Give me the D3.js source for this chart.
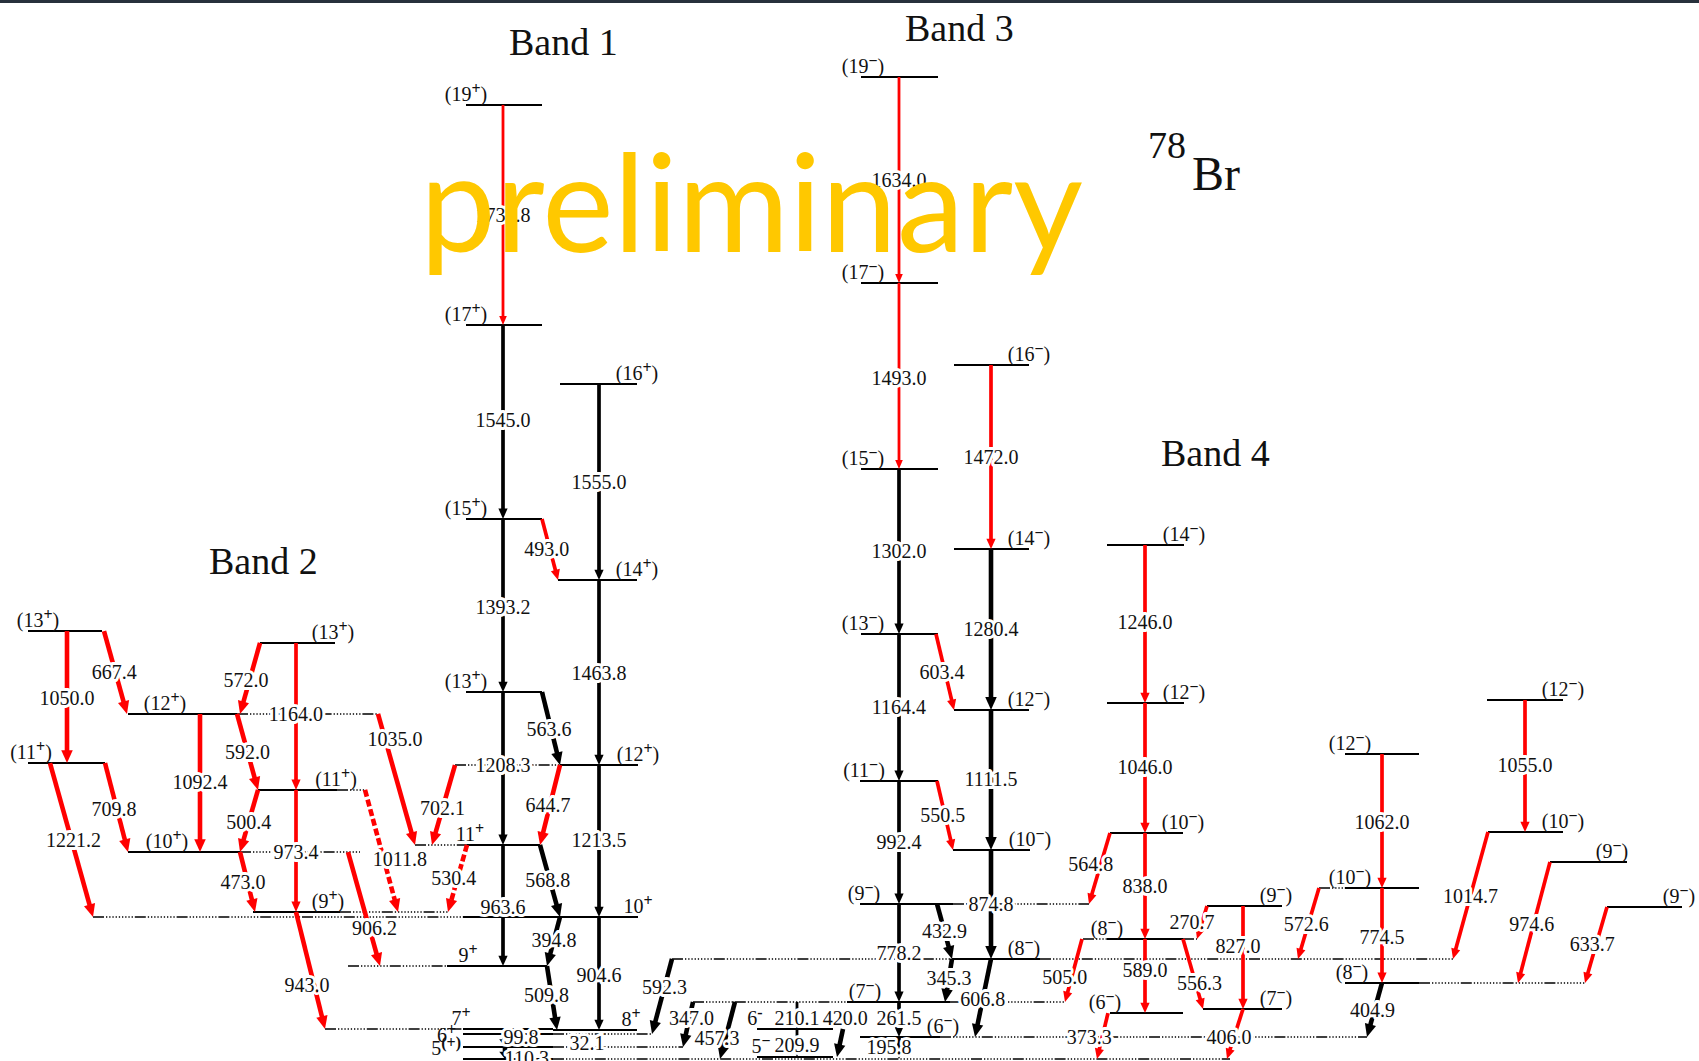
<!DOCTYPE html>
<html>
<head>
<meta charset="utf-8">
<script src="https://cdn.jsdelivr.net/npm/d3@7"></script>
<style>
  body { margin: 0; background: #fff; }
  svg text { font-family: "Liberation Serif", "Times New Roman", serif; fill: #111; }
</style>
</head>
<body>
<svg id="scheme" width="1699" height="1061"></svg>
<script>
// level energies are in keV, x0/x1 in layout units (1 unit = 10 px)
// [id, spin, energy, x0, x1, label side, label shift]
const levels = [
  ["b1_19", "(19+)", 7674, 46.6, 54.2, "l", 0],
  ["b1_17", "(17+)", 5933, 46.6, 54.2, "l", 0],
  ["b1_15", "(15+)", 4399, 46.6, 54.2, "l", 0],
  ["b1_13", "(13+)", 3030, 46.6, 54.2, "l", 0],
  ["b1_11", "11+", 1820, 46.7, 54.0, "l", 0.3],
  ["b1_9", "9+", 862, 44.7, 54.7, "l", 2.1],
  ["b1_7", "7+", 364, 46.3, 55.3, "l", -0.2],
  ["b1_8", "8+", 356, 55.3, 63.7, "r", -0.6],
  ["b1_6", "6+", 324, 46.3, 55.3, "o", -0.6],
  ["b1_5", "5(+)", 221, 46.3, 55.3, "o", -0.1],
  ["b0", "", 127, 46.3, 55.3, "n", 0],
  ["b1_16", "(16+)", 5467, 56.0, 63.7, "r", 0],
  ["b1_14", "(14+)", 3916, 55.8, 63.7, "r", 0],
  ["b1_12", "(12+)", 2452, 56.0, 63.8, "r", 0],
  ["b1_10", "10+", 1250, 46.3, 63.8, "r", 0],
  ["b2_13a", "(13+)", 3512, 2.8, 10.2, "l", 1.0],
  ["b2_11a", "(11+)", 2468, 2.8, 10.5, "l", 0.3],
  ["b2_12", "(12+)", 2856, 12.8, 23.7, "l", 3.7],
  ["b2_10", "(10+)", 1764, 12.8, 24.0, "l", 3.9],
  ["b2_13b", "(13+)", 3418, 26.0, 33.5, "r", -0.2],
  ["b2_11b", "(11+)", 2255, 25.8, 33.7, "r", -0.1],
  ["b2_9", "(9+)", 1290, 25.3, 34.0, "r", -1.2],
  ["b3_19", "(19−)", 7895, 86.1, 93.8, "l", 0.2],
  ["b3_17", "(17−)", 6266, 86.1, 93.8, "l", 0.2],
  ["b3_15", "(15−)", 4794, 86.1, 93.8, "l", 0.2],
  ["b3_13", "(13−)", 3489, 86.1, 93.8, "l", 0.2],
  ["b3_11", "(11−)", 2326, 86.0, 93.8, "l", 0.4],
  ["b3_9", "(9−)", 1353, 86.0, 95.3, "l", 0.4],
  ["b3_7", "(7−)", 578, 84.7, 95.0, "l", 1.8],
  ["b3_6", "(6−)", 301, 86.0, 94.0, "r", 0.3],
  ["b3_16", "(16−)", 5617, 95.4, 102.9, "r", 0],
  ["b3_14", "(14−)", 4161, 95.4, 102.9, "r", 0],
  ["b3_12", "(12−)", 2888, 95.4, 102.9, "r", 0],
  ["b3_10", "(10−)", 1780, 95.3, 103.0, "r", 0],
  ["b3_8", "(8−)", 918, 95.2, 104.0, "r", -1.6],
  ["n6", "6-", 364, 75.7, 83.3, "l", -0.2],
  ["n5", "5−", 142, 75.7, 83.3, "l", 0.4],
  ["b4_14", "(14−)", 4193, 110.7, 118.4, "r", 0],
  ["b4_12", "(12−)", 2943, 110.7, 118.4, "r", 0],
  ["b4_10", "(10−)", 1914, 111.0, 118.3, "r", 0],
  ["b4_8", "(8−)", 1076, 110.7, 118.3, "l", 0],
  ["b4_6", "(6−)", 490, 111.0, 118.3, "l", -0.5],
  ["b4_9", "(9−)", 1337, 120.7, 128.2, "r", -0.6],
  ["b4_7", "(7−)", 522, 120.3, 128.2, "r", -0.6],
  ["b5_12", "(12−)", 2539, 134.5, 141.9, "l", 0.5],
  ["b5_10", "(10−)", 1479, 134.5, 141.9, "l", 0.5],
  ["b5_8", "(8−)", 728, 134.5, 141.9, "l", 0.7],
  ["b6_12", "(12−)", 2967, 148.7, 156.3, "r", 0],
  ["b6_10", "(10−)", 1922, 148.8, 156.3, "r", 0],
  ["b6_9", "(9−)", 1685, 155.0, 162.7, "r", -1.5],
  ["b7_9", "(9−)", 1329, 160.7, 168.2, "r", -0.3]
];

// dotted continuations of levels: [energy, x0, x1]
const guides = [
  [2856, 23.7, 37.8], [1764, 24.0, 36.0], [2255, 33.7, 36.5], [1290, 34.0, 44.8],
  [1250, 9.3, 46.3], [1820, 41.5, 46.7], [2452, 45.5, 56.0], [862, 34.8, 44.7],
  [364, 32.5, 46.3], [324, 55.3, 65.2], [221, 55.3, 68.3], [127, 55.3, 123.0],
  [918, 67.2, 95.2], [918, 104.0, 145.3], [578, 69.3, 84.7], [578, 95.0, 106.5],
  [301, 94.0, 136.7], [1353, 95.3, 108.9], [1076, 108.3, 110.7], [1076, 118.3, 119.7],
  [1479, 131.9, 134.5], [728, 141.9, 158.5]
];

// gamma rays: [energy label, from, to, x start, x end, kind (k known, n new, d tentative), intensity, label pos, label shift]
const gammas = [
  ["1735.8", "b1_19", "b1_17", 50.3, 50.3, "n", 1, 0.50, 0],
  ["1545.0", "b1_17", "b1_15", 50.3, 50.3, "k", 2, 0.49, 0],
  ["1393.2", "b1_15", "b1_13", 50.3, 50.3, "k", 2, 0.51, 0],
  ["1208.3", "b1_13", "b1_11", 50.3, 50.3, "k", 2, 0.48, 0],
  ["963.6", "b1_11", "b1_9", 50.3, 50.3, "k", 2, 0.51, 0],
  ["1555.0", "b1_16", "b1_14", 59.9, 59.9, "k", 2, 0.50, 0],
  ["1463.8", "b1_14", "b1_12", 59.9, 59.9, "k", 2, 0.50, 0],
  ["1213.5", "b1_12", "b1_10", 59.9, 59.9, "k", 2, 0.49, 0],
  ["904.6", "b1_10", "b1_8", 59.9, 59.9, "k", 2, 0.51, 0],
  ["493.0", "b1_15", "b1_14", 54.2, 55.8, "n", 2, 0.49, -0.3],
  ["563.6", "b1_13", "b1_12", 54.2, 56.0, "k", 3, 0.50, -0.2],
  ["644.7", "b1_12", "b1_11", 56.0, 54.0, "n", 3, 0.50, -0.2],
  ["568.8", "b1_11", "b1_10", 54.0, 56.0, "k", 3, 0.49, -0.2],
  ["394.8", "b1_10", "b1_9", 56.0, 54.7, "k", 3, 0.47, 0],
  ["509.8", "b1_9", "b1_8", 54.7, 55.7, "k", 3, 0.45, -0.5],
  ["99.8", "b1_6", "b1_5", 50.5, 50.5, "k", 3, 0.23, 1.6],
  ["110.3", "b1_5", "b0", 50.5, 50.5, "k", 3, 0.90, 2.2],
  ["592.3", "b3_8", "b1_6", 67.2, 65.2, "k", 3, 0.38, 0],
  ["347.0", "b3_7", "b1_5", 69.3, 68.3, "k", 3, 0.36, 0.2],
  ["457.3", "b3_7", "b0", 73.5, 72.0, "k", 3, 0.63, -0.85],
  ["210.1", "b3_7", "n6", 79.7, 79.7, "k", 1, 0.59, 0],
  ["209.9", "n6", "n5", 79.7, 79.7, "k", 1, 0.57, 0],
  ["420.0", "n6", "n5", 84.3, 83.7, "k", 3, -0.39, 0],
  ["261.5", "b3_7", "b3_6", 89.9, 89.9, "k", 2, 0.46, 0],
  ["195.8", "b3_6", "b0", 89.9, 89.9, "k", 2, 0.45, -1.0],
  ["1634.0", "b3_19", "b3_17", 89.9, 89.9, "n", 1, 0.50, 0],
  ["1493.0", "b3_17", "b3_15", 89.9, 89.9, "n", 1, 0.51, 0],
  ["1302.0", "b3_15", "b3_13", 89.9, 89.9, "k", 2, 0.50, 0],
  ["1164.4", "b3_13", "b3_11", 89.9, 89.9, "k", 2, 0.50, 0],
  ["992.4", "b3_11", "b3_9", 89.9, 89.9, "k", 2, 0.50, 0],
  ["778.2", "b3_9", "b3_7", 89.9, 89.9, "k", 2, 0.50, 0],
  ["1472.0", "b3_16", "b3_14", 99.1, 99.1, "n", 2, 0.50, 0],
  ["1280.4", "b3_14", "b3_12", 99.1, 99.1, "k", 3, 0.50, 0],
  ["1111.5", "b3_12", "b3_10", 99.1, 99.1, "k", 3, 0.49, 0],
  ["874.8", "b3_10", "b3_8", 99.1, 99.1, "k", 3, 0.50, 0],
  ["603.4", "b3_13", "b3_12", 93.6, 95.4, "n", 2, 0.50, -0.3],
  ["550.5", "b3_11", "b3_10", 93.7, 95.3, "n", 2, 0.49, -0.2],
  ["432.9", "b3_9", "b3_8", 93.7, 95.2, "k", 3, 0.50, 0],
  ["345.3", "b3_8", "b3_7", 95.2, 94.5, "k", 3, 0.44, 0],
  ["606.8", "b3_8", "b3_6", 99.1, 97.5, "k", 3, 0.51, 0],
  ["1246.0", "b4_14", "b4_12", 114.5, 114.5, "n", 2, 0.49, 0],
  ["1046.0", "b4_12", "b4_10", 114.5, 114.5, "n", 2, 0.49, 0],
  ["838.0", "b4_10", "b4_8", 114.5, 114.5, "n", 2, 0.50, 0],
  ["589.0", "b4_8", "b4_6", 114.5, 114.5, "n", 2, 0.42, 0],
  ["564.8", "b4_10", "b3_9", 111.0, 108.9, "n", 2, 0.44, -1.0],
  ["505.0", "b4_8", "b3_7", 108.2, 106.5, "n", 2, 0.60, -0.7],
  ["373.3", "b4_6", "b0", 110.8, 109.7, "n", 2, 0.52, -1.3],
  ["270.7", "b4_9", "b4_8", 120.7, 119.7, "n", 2, 0.50, -1.0],
  ["827.0", "b4_9", "b4_7", 124.3, 124.3, "n", 2, 0.39, -0.5],
  ["556.3", "b4_8", "b4_7", 118.3, 120.3, "n", 2, 0.63, 0.4],
  ["406.0", "b4_7", "b0", 124.3, 122.7, "n", 2, 0.56, -0.5],
  ["572.6", "b5_10", "b3_8", 131.9, 129.8, "n", 2, 0.51, -0.2],
  ["1062.0", "b5_12", "b5_10", 138.2, 138.2, "n", 2, 0.51, 0],
  ["774.5", "b5_10", "b5_8", 138.2, 138.2, "n", 2, 0.52, 0],
  ["404.9", "b5_8", "b3_6", 138.2, 136.7, "k", 3, 0.50, -0.2],
  ["1055.0", "b6_12", "b6_10", 152.5, 152.5, "n", 2, 0.49, 0],
  ["1014.7", "b6_10", "b3_8", 148.8, 145.3, "n", 2, 0.50, 0],
  ["974.6", "b6_9", "b5_8", 155.0, 151.8, "n", 2, 0.51, -0.2],
  ["633.7", "b7_9", "b5_8", 160.7, 158.5, "n", 2, 0.49, -0.4],
  ["1050.0", "b2_13a", "b2_11a", 6.7, 6.7, "n", 3, 0.51, 0],
  ["667.4", "b2_13a", "b2_12", 10.4, 12.7, "n", 3, 0.49, -0.1],
  ["1221.2", "b2_11a", "b1_10", 5.0, 9.3, "n", 3, 0.50, 0.2],
  ["709.8", "b2_11a", "b2_10", 10.5, 12.8, "n", 3, 0.52, -0.3],
  ["1092.4", "b2_12", "b2_10", 20.0, 20.0, "n", 3, 0.49, 0],
  ["572.0", "b2_13b", "b2_12", 26.0, 24.0, "n", 3, 0.52, -0.35],
  ["1164.0", "b2_13b", "b2_11b", 29.6, 29.6, "n", 2, 0.48, 0],
  ["592.0", "b2_12", "b2_11b", 23.7, 25.8, "n", 3, 0.50, 0],
  ["500.4", "b2_11b", "b2_10", 25.8, 24.0, "n", 3, 0.52, 0],
  ["473.0", "b2_10", "b2_9", 24.0, 25.5, "n", 3, 0.50, -0.45],
  ["973.4", "b2_11b", "b2_9", 29.6, 29.6, "n", 2, 0.51, 0],
  ["943.0", "b2_9", "b1_7", 29.6, 32.5, "n", 3, 0.62, -0.7],
  ["906.2", "b2_10", "b1_9", 34.8, 38.0, "n", 3, 0.67, 0.5],
  ["1011.8", "b2_11b", "b2_9", 36.5, 39.8, "d", 3, 0.57, 1.6],
  ["1035.0", "b2_12", "b1_11", 37.8, 41.5, "n", 3, 0.19, 1.0],
  ["702.1", "b1_12", "b1_11", 45.5, 43.2, "n", 3, 0.54, 0],
  ["530.4", "b1_11", "b2_9", 46.7, 44.8, "d", 3, 0.49, -0.4]
];

// free standing energy label: [text, energy, x]
const notes = [["32.1", 253, 58.7]];

const bandTitles = [["Band 1", 8069, 50.9], ["Band 3", 8180, 90.5], ["Band 2", 3963, 20.9], ["Band 4", 4818, 116.1]];

const svg = d3.select("#scheme");
const x = d3.scaleLinear().domain([0, 169.9]).range([0, 1699]);
const y = d3.scaleLinear().domain([0, 8500]).range([1075, 1075 - 8500 / 7.911]);
const colour = d3.scaleOrdinal().domain(["k", "n", "d"]).range(["#000", "#ff0000", "#ff0000"]);
const thick = d3.scaleLinear().domain([1, 3]).range([2.8, 4.6]);
const lev = new Map(levels.map(d => [d[0], d]));
const unit = x(1) - x(0);

// thin dark frame edge at the top
svg.append("rect").attr("width", 1699).attr("height", 3).attr("fill", "#27313c");

var dashDot = [11, 2].concat(d3.range(9).flatMap(() => [1.3, 1.9])).join(" ");

svg.append("g").selectAll("line")
  .data(guides)
  .join("line")
    .attr("x1", d => x(d[1])).attr("x2", d => x(d[2]))
    .attr("y1", d => y(d[0])).attr("y2", d => y(d[0]))
    .attr("stroke", "#000").attr("stroke-width", 1.4)
    .attr("stroke-dasharray", dashDot);

svg.append("g").selectAll("line")
  .data(levels)
  .join("line")
    .attr("x1", d => x(d[3])).attr("x2", d => x(d[4]))
    .attr("y1", d => y(d[2])).attr("y2", d => y(d[2]))
    .attr("stroke", "#000").attr("stroke-width", 2);

// arrows
var geo = gammas.map(g => {
  var x0 = x(g[3]), y0 = y(lev.get(g[1])[2]), x1 = x(g[4]), y1 = y(lev.get(g[2])[2]);
  var len = Math.hypot(x1 - x0, y1 - y0), ux = (x1 - x0) / len, uy = (y1 - y0) / len;
  var sw = thick(g[6]);
  var L = Math.min(Math.max(9, 2.8 * sw), len * 0.6), W = Math.max(3.8, 1.25 * sw);
  return {g: g, x0: x0, y0: y0, x1: x1, y1: y1, ux: ux, uy: uy, sw: sw, L: L, W: W};
});

var arrows = svg.append("g");
arrows.selectAll("line")
  .data(geo)
  .join("line")
    .attr("x1", d => d.x0).attr("y1", d => d.y0)
    .attr("x2", d => d.x1 - d.ux * d.L * 0.8).attr("y2", d => d.y1 - d.uy * d.L * 0.8)
    .attr("stroke", d => colour(d.g[5]))
    .attr("stroke-width", d => d.sw)
    .attr("stroke-dasharray", d => d.g[5] == "d" ? "7 3" : null);

arrows.selectAll("path")
  .data(geo)
  .join("path")
    .attr("fill", d => colour(d.g[5]))
    .attr("d", d => {
      var bx = d.x1 - d.ux * d.L, by = d.y1 - d.uy * d.L;
      return "M" + d.x1 + "," + d.y1 +
        "L" + (bx - d.uy * d.W) + "," + (by + d.ux * d.W) +
        "L" + (bx + d.uy * d.W) + "," + (by - d.ux * d.W) + "Z";
    });

// gamma energy labels, white halo breaks the lines behind them
svg.append("g").selectAll("text")
  .data(geo)
  .join("text")
    .attr("x", d => d.x0 + (d.x1 - d.x0) * d.g[7] + d.g[8] * unit)
    .attr("y", d => d.y0 + (d.y1 - d.y0) * d.g[7])
    .attr("dy", "0.35em")
    .attr("text-anchor", "middle")
    .attr("font-size", 20)
    .attr("stroke", "#fff").attr("stroke-width", 6)
    .attr("stroke-linejoin", "round").attr("paint-order", "stroke")
    .text(d => d.g[0]);

svg.append("g").selectAll("text")
  .data(notes)
  .join("text")
    .attr("x", d => x(d[2])).attr("y", d => y(d[1]))
    .attr("dy", "0.35em").attr("text-anchor", "middle").attr("font-size", 20)
    .attr("stroke", "#fff").attr("stroke-width", 6).attr("paint-order", "stroke")
    .text(d => d[0]);

// spin / parity labels
function spinParts(s) {
  var m = s.match(/^(\(?)(\d+)(\(\+\)|[+\-−])(\)?)$/);
  return m ? [m[1] + m[2], m[3], m[4]] : [s, "", ""];
}

var spins = svg.append("g").selectAll("text")
  .data(levels.filter(d => d[5] != "n"))
  .join("text")
    .attr("font-size", 20)
    .attr("text-anchor", d => d[5] == "o" ? "end" : "middle")
    .attr("x", d => d[5] == "r" ? x(d[4] + d[6]) : x(d[3] + d[6]) - (d[5] == "o" ? 1 : 0))
    .attr("y", d => y(d[2]) + (d[5] == "o" ? 8 : -4));

spins.each(function(d) {
  var p = spinParts(d[1]), t = d3.select(this);
  t.append("tspan").text(p[0]);
  t.append("tspan").attr("dy", -7).attr("font-size", 16).attr("font-weight", "bold").text(p[1]);
  t.append("tspan").attr("dy", 7).text(p[2]);
});

svg.append("g").selectAll("text")
  .data(bandTitles)
  .join("text")
    .attr("x", d => x(d[2])).attr("y", d => y(d[1]))
    .attr("font-size", 38)
    .text(d => d[0]);

// nuclide
svg.append("text").attr("x", x(114.8)).attr("y", y(7254)).attr("font-size", 38).text("78");
svg.append("text").attr("x", x(119.2)).attr("y", y(7001)).attr("font-size", 48).text("Br");

// watermark on top of everything
svg.append("text")
  .attr("x", x(42.0)).attr("y", y(6511))
  .attr("textLength", 663).attr("lengthAdjust", "spacingAndGlyphs")
  .style("font-family", "Lato, 'Open Sans', sans-serif")
  .style("fill", "#ffc800")
  .attr("font-size", 135)
  .text("preliminary");
</script>
</body>
</html>
